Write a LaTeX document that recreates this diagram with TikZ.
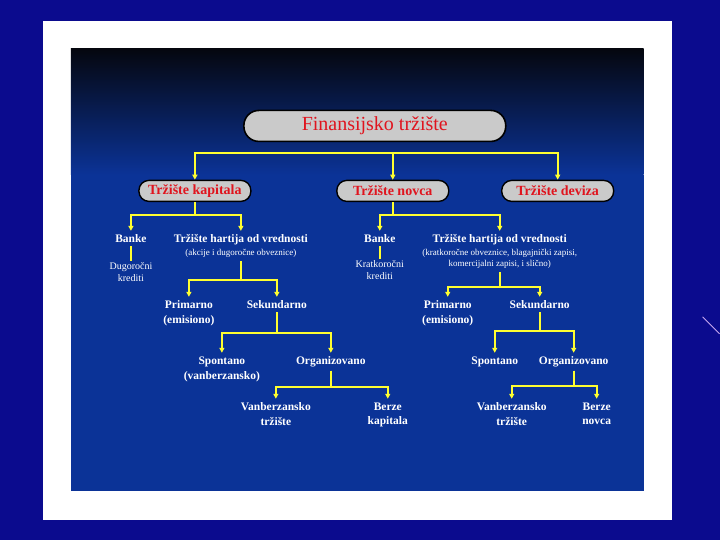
\documentclass[tikz,border=0pt]{standalone}
\usepackage{fontspec}
\setmainfont{Liberation Serif}
\usepackage{xcolor}
\usepackage{tikz}
\usetikzlibrary{positioning,arrows.meta,calc}
\definecolor{FTouter}{HTML}{0B0B8E}
\definecolor{FTnight}{HTML}{05070F}
\definecolor{FTblue}{HTML}{0B3397}
\definecolor{FTgray}{HTML}{CACACA}
\definecolor{FTred}{HTML}{E0141E}
\definecolor{FTyellow}{HTML}{FFFF30}
\definecolor{FTswirl}{HTML}{C8A8F0}
\newcommand{\smallsub}[1]{{\fontsize{9}{10}\mdseries\selectfont #1}}
\tikzset{
  rootbox/.style={rounded corners=15pt, draw=black, line width=1.6pt, fill=FTgray, minimum width=262pt, minimum height=31pt, font=\fontsize{20}{22}\selectfont, text=FTred},
  marketbox/.style={rounded corners=10pt, draw=black, line width=1.4pt, fill=FTgray, minimum width=112pt, minimum height=21pt, inner sep=1pt, font=\fontsize{14}{15}\bfseries\selectfont, text=FTred},
  lbl/.style={text=white, align=center, inner xsep=1.5pt, inner ysep=3.5pt, font=\fontsize{11.5}{15}\bfseries\selectfont},
  smalllbl/.style={text=white, align=center, inner sep=1.5pt, font=\fontsize{10}{12}\selectfont},
  yarr/.style={-{Triangle[length=5pt,width=5pt]}, line width=1.8pt, draw=FTyellow},
  yline/.style={line width=1.8pt, draw=FTyellow}
}

\begin{document}
\begin{tikzpicture}[x=1pt, y=-1pt]
% background and frame
\fill[FTouter] (0,0) rectangle (720,540);
\draw[FTswirl, line width=0.8pt] (703,317) -- (720,334);
\fill[white] (43,21) rectangle (672,520);
\shade[top color=FTnight, bottom color=FTblue] (71,49) rectangle (644,175);
\fill[FTblue] (71,175) rectangle (644,491);
\useasboundingbox (0,0) rectangle (720,540);

% top levels
\node[rootbox] (root) at (375,126) {Finansijsko tržište};
\node[marketbox] (kap) at (195,191) {Tržište kapitala};
\node[marketbox] (nov) at (393,191) {Tržište novca};
\node[marketbox] (dev) at (558,191) {Tržište deviza};

% trziste kapitala
\node[lbl, anchor=north] (bank1) at (131,231) {Banke};
\node[smalllbl, anchor=north, text width=50pt] (kred1) at (131,261) {Dugoročni\\krediti};
\node[lbl, anchor=north] (htv1) at (241,231) {Tržište hartija od vrednosti\\[-2pt]\smallsub{(akcije i dugoročne obveznice)}};
\node[lbl, anchor=north] (prim1) at (189,297) {Primarno\\(emisiono)};
\node[lbl, anchor=north] (sek1) at (277,297) {Sekundarno};
\node[lbl, anchor=north] (spon1) at (222,353) {Spontano\\(vanberzansko)};
\node[lbl, anchor=north] (org1) at (331,353) {Organizovano};
\node[lbl, anchor=north] (vanb1) at (276,399) {Vanberzansko\\tržište};
\node[lbl, anchor=north] (berz1) at (388,399) {Berze\\kapitala};

% trziste novca
\node[lbl, anchor=north] (bank2) at (380,231) {Banke};
\node[smalllbl, anchor=north, text width=50pt] (kred2) at (380,259) {Kratkoročni\\krediti};
\node[lbl, anchor=north] (htv2) at (500,231) {Tržište hartija od vrednosti\\[-2pt]\smallsub{(kratkoročne obveznice, blagajnički zapisi,}\\[-4pt]\smallsub{komercijalni zapisi, i slično)}};
\node[lbl, anchor=north] (prim2) at (448,297) {Primarno\\(emisiono)};
\node[lbl, anchor=north] (sek2) at (540,297) {Sekundarno};
\node[lbl, anchor=north] (spon2) at (495,353) {Spontano};
\node[lbl, anchor=north] (org2) at (574,353) {Organizovano};
\node[lbl, anchor=north] (vanb2) at (512,399) {Vanberzansko\\tržište};
\node[lbl, anchor=north] (berz2) at (597,399) {Berze\\novca};

% connectors
\draw[yarr] (root.south) ++(0,11) -| (kap.north);
\draw[yarr] (root.south) ++(0,11) -| (nov.north);
\draw[yarr] (root.south) ++(0,11) -| (dev.north);

\draw[yarr] (kap.south) |- ([yshift=16pt]bank1.north) -- (bank1.north);
\draw[yarr] (kap.south) |- ([yshift=16pt]htv1.north) -- (htv1.north);
\draw[yline] (bank1.south) -- (kred1.north);
\draw[yarr] (htv1.south) |- ([yshift=17pt]prim1.north) -- (prim1.north);
\draw[yarr] (htv1.south) |- ([yshift=17pt]sek1.north) -- (sek1.north);
\draw[yarr] (sek1.south) |- ([yshift=20pt]spon1.north) -- (spon1.north);
\draw[yarr] (sek1.south) |- ([yshift=20pt]org1.north) -- (org1.north);
\draw[yarr] (org1.south) |- ([yshift=12pt]vanb1.north) -- (vanb1.north);
\draw[yarr] (org1.south) |- ([yshift=12pt]berz1.north) -- (berz1.north);

\draw[yarr] (nov.south) |- ([yshift=16pt]bank2.north) -- (bank2.north);
\draw[yarr] (nov.south) |- ([yshift=16pt]htv2.north) -- (htv2.north);
\draw[yline] (bank2.south) -- (kred2.north);
\draw[yarr] (htv2.south) |- ([yshift=10pt]prim2.north) -- (prim2.north);
\draw[yarr] (htv2.south) |- ([yshift=10pt]sek2.north) -- (sek2.north);
\draw[yarr] (sek2.south) |- ([yshift=22pt]spon2.north) -- (spon2.north);
\draw[yarr] (sek2.south) |- ([yshift=22pt]org2.north) -- (org2.north);
\draw[yarr] (org2.south) |- ([yshift=13pt]vanb2.north) -- (vanb2.north);
\draw[yarr] (org2.south) |- ([yshift=13pt]berz2.north) -- (berz2.north);
\end{tikzpicture}
\end{document}
